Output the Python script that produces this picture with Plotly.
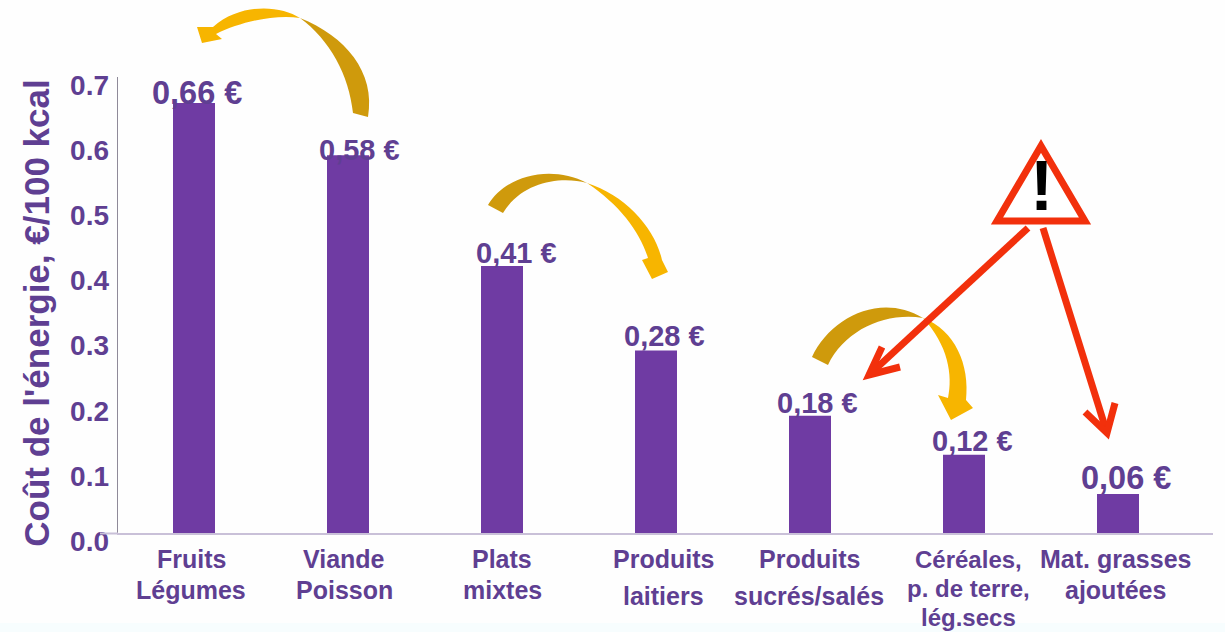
import plotly.graph_objects as go

# Cost of energy per food group
categories = ["Fruits Légumes", "Viande Poisson", "Plats mixtes", "Produits laitiers",
              "Produits sucrés/salés", "Céréales, p. de terre, lég.secs", "Mat. grasses ajoutées"]
cost_values = [0.66, 0.58, 0.41, 0.28, 0.18, 0.12, 0.06]
value_labels = ["0,66 €", "0,58 €", "0,41 €", "0,28 €", "0,18 €", "0,12 €", "0,06 €"]
tick_values = [0.0, 0.1, 0.2, 0.3, 0.4, 0.5, 0.6, 0.7]
tick_labels = ["0.0", "0.1", "0.2", "0.3", "0.4", "0.5", "0.6", "0.7"]
category_lines = [["Fruits", "Légumes"], ["Viande", "Poisson"], ["Plats", "mixtes"],
                  ["Produits", "laitiers"], ["Produits", "sucrés/salés"],
                  ["Céréales,", "p. de terre,", "lég.secs"], ["Mat. grasses", "ajoutées"]]
axis_title = "Coût de l'énergie, €/100 kcal"

WIDTH, HEIGHT = 1225, 632
LEFT, RIGHT, TOP, BASE = 118, 1213, 77, 533
AREA_BOTTOM = 600          # plot area runs below the baseline to leave room for the offset tick axis
TICK_DROP = 8              # tick labels sit this many pixels below their nominal height
PURPLE = "#6f3ba3"
TEXT = "#5f3f92"
FONT = "Liberation Sans"
DARK_GOLD = "#cf9a0c"
GOLD = "#f7b500"
RED = "#f2300c"

AREA_H = AREA_BOTTOM - TOP
PX_PER_UNIT = (BASE - TOP) / 0.7
PX_PER_CAT = 154
X0 = (LEFT - 194) / PX_PER_CAT
X1 = (RIGHT - 194) / PX_PER_CAT

# Hand placement of the text relative to bars and baseline
label_size = [32.5, 29, 29, 29, 29, 29, 32.5]
label_dx = [3, 11, 14, 8, 7, 8, 8]
label_centre_y = [93, 150, 253, 336, 403, 441, 478]
cat_size = [25, 25, 25, 25, 25, 24, 25]
cat_dx = [-3, -4, 0, 7, -1, 4, -3]
cat_line_y = [[559, 590], [559, 590], [559, 590], [559, 596], [559, 596], [559, 588, 617], [559, 590]]


def paper_x(value):
    return (value - LEFT) / (RIGHT - LEFT)


def paper_y(value):
    return (AREA_BOTTOM - value) / AREA_H


def px(path):
    """Convert a path written in page pixels to paper coordinates."""
    out = []
    for tok in path.split():
        if "," in tok:
            cmd = ""
            if tok[0].isalpha():
                cmd, tok = tok[0], tok[1:]
            a, b = tok.split(",")
            out.append(f"{cmd}{paper_x(float(a)):.5f},{paper_y(float(b)):.5f}")
        else:
            out.append(tok)
    return " ".join(out)


def blob(path, color):
    return dict(type="path", xref="paper", yref="paper", path=px(path), fillcolor=color,
                line=dict(color=color, width=0), layer="above")


def stroke(path, color, width):
    return dict(type="path", xref="paper", yref="paper", path=px(path),
                line=dict(color=color, width=width), layer="above")


fig = go.Figure()
fig.add_trace(go.Bar(x=categories, y=cost_values, width=42 / PX_PER_CAT,
                     marker=dict(color=PURPLE, line=dict(width=0)), hoverinfo="skip"))
# Second axis carries the tick labels, dropped a little below the bar scale
fig.add_trace(go.Scatter(x=categories[:1], y=[0], yaxis="y2", mode="markers",
                         marker=dict(opacity=0), hoverinfo="skip"))

shapes = [
    # Pale band along the bottom edge
    dict(type="rect", xref="paper", yref="paper", x0=paper_x(0), x1=paper_x(WIDTH),
         y0=paper_y(623), y1=paper_y(HEIGHT), fillcolor="#f7fdfe", line=dict(width=0), layer="below"),
    # Stub of the baseline left of the value axis
    stroke("M100,533.5 L 118,533.5", "#c9c0d8", 2),
    # Left-hand curved arrow
    blob("M353,113 C 349,75 330,40 300,18 C 345,36 376,72 368,117 Z", DARK_GOLD),
    blob("M300,18 C 280,5 240,3 213,27 L 197,27 L 202,43 L 222,39 L 216,34 C 240,22 275,14 300,18 Z", GOLD),
    # Middle curved arrow
    blob("M488,205 C 505,176 550,164 587,183 C 560,176 522,182 503,213 Z", DARK_GOLD),
    blob("M587,183 C 625,195 655,228 662,260 L 668,272 L 652,279 L 642,260 L 648,258 C 640,232 620,205 587,183 Z", GOLD),
    # Right curved arrow
    blob("M812,357 C 830,318 880,292 923,318 C 885,312 845,330 828,365 Z", DARK_GOLD),
    blob("M923,318 C 955,330 970,365 966,400 L 973,408 L 951,420 L 938,395 L 948,398 C 953,375 948,345 923,318 Z", GOLD),
    # Warning triangle
    dict(type="path", xref="paper", yref="paper", path=px("M1041,146 L 1085,221 L 997,221 Z"),
         fillcolor="white", line=dict(color=RED, width=7), layer="above"),
    # Red pointers
    stroke("M1028,228 L 869,375", RED, 7),
    stroke("M882,347 L 869,375 L 900,367", RED, 7),
    stroke("M1043,228 L 1107,433", RED, 7),
    stroke("M1085,412 L 1107,433 L 1115,403", RED, 7),
]

annotations = []
for i, (text, size, dx, cy) in enumerate(zip(value_labels, label_size, label_dx, label_centre_y)):
    annotations.append(dict(x=categories[i], y=cost_values[i], text=text, showarrow=False,
                            xshift=dx, yshift=(BASE - cost_values[i] * PX_PER_UNIT) - cy,
                            font=dict(family=FONT, size=size, color=TEXT, weight="bold")))
for i, (lines, size, dx, ys) in enumerate(zip(category_lines, cat_size, cat_dx, cat_line_y)):
    for line, cy in zip(lines, ys):
        annotations.append(dict(x=categories[i], y=0, text=line, showarrow=False,
                                xshift=dx, yshift=BASE - cy,
                                font=dict(family=FONT, size=size, color=TEXT, weight="bold")))
annotations.append(dict(xref="paper", yref="paper", x=paper_x(1041), y=paper_y(186),
                        xanchor="center", yanchor="middle", text="!", showarrow=False,
                        font=dict(family=FONT, size=70, color="black", weight="bold")))

fig.update_layout(
    width=WIDTH, height=HEIGHT, showlegend=False,
    margin=dict(l=LEFT, r=WIDTH - RIGHT, t=TOP, b=HEIGHT - AREA_BOTTOM),
    paper_bgcolor="#fefefe", plot_bgcolor="rgba(0,0,0,0)",
    shapes=shapes, annotations=annotations,
    xaxis=dict(type="category", categoryorder="array", categoryarray=categories,
               range=[X0, X1], showticklabels=False, ticks="", showgrid=False, zeroline=False,
               showline=True, linecolor="#c9c0d8", linewidth=2, fixedrange=True),
    yaxis=dict(domain=[(AREA_BOTTOM - BASE) / AREA_H, 1], range=[0, 0.7], showticklabels=False,
               ticks="", showgrid=False, zeroline=False,
               showline=True, linecolor="#8f8a99", linewidth=1, fixedrange=True),
    yaxis2=dict(domain=[(AREA_BOTTOM - BASE - TICK_DROP) / AREA_H, 1 - TICK_DROP / AREA_H],
                anchor="x", side="left", range=[0, 0.7],
                tickvals=tick_values, ticktext=tick_labels,
                tickfont=dict(family=FONT, size=28, color=TEXT, weight="bold"),
                ticks="", showgrid=False, zeroline=False, showline=False, fixedrange=True, ticklabelstandoff=8,
                title=dict(text=axis_title, font=dict(family=FONT, size=35, color=TEXT, weight="bold"), standoff=9)),
)

fig.write_html("out.html")
